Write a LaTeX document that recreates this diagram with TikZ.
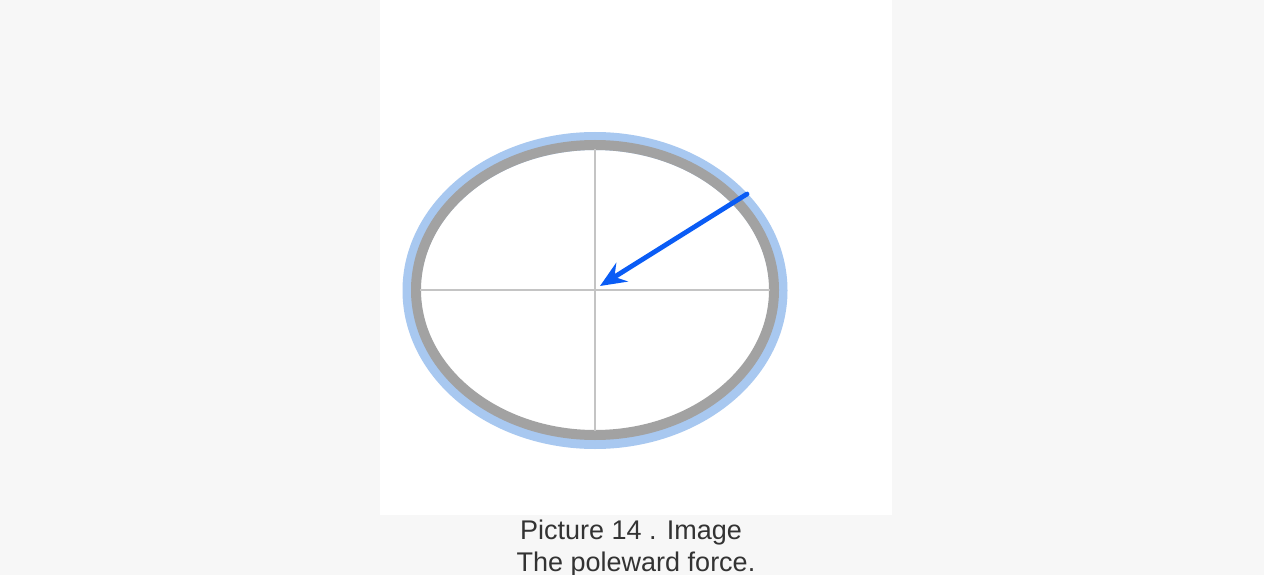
\documentclass[tikz,border=0pt]{standalone}
\usepackage{fontspec}
\setmainfont{Liberation Sans}
\usetikzlibrary{arrows.meta}
\definecolor{pagebg}{HTML}{F7F7F7}
\definecolor{halo}{HTML}{A8C8F0}
\definecolor{rim}{HTML}{A2A2A2}
\definecolor{cross}{HTML}{C4C4C4}
\definecolor{force}{HTML}{0A5CF5}
\definecolor{captxt}{HTML}{333333}
\tikzset{
  captionline/.style={anchor=base, text=captxt, font=\fontsize{27}{32}\selectfont, inner sep=0pt},
  crossline/.style={draw=cross, line width=2.8pt},
  forcearrow/.style={draw=force, line width=4.8pt, line cap=round, -{Stealth[length=26pt, width=22pt, inset=9pt]}}
}
\begin{document}
\begin{tikzpicture}[x=1pt, y=-1pt]
  \fill[pagebg] (0,0) rectangle (1264,575);
  \useasboundingbox (0,0) rectangle (1264,575);
  \fill[white] (380,0) rectangle (892,515);
  % halo and rim
  \draw[halo, line width=18pt] (595,290.5) ellipse [x radius=183.5, y radius=149.5];
  \draw[rim, line width=10pt] (595,290) ellipse [x radius=179, y radius=145];
  % crosshair
  \coordinate (c) at (595,290);
  \coordinate (l) at (420,290);
  \coordinate (r) at (770,290);
  \coordinate (t) at (595,149);
  \coordinate (b) at (595,431);
  \draw[crossline] (l) -- (r);
  \draw[crossline] (t) -- (b);
  % force arrow
  \coordinate (fs) at (747,194);
  \coordinate (fe) at (600,286);
  \draw[forcearrow] (fs) -- (fe);
  % caption
  \node[captionline] (cap1) at (631,539) {Picture 14 . Image};
  \node[captionline] (cap2) at (636,571) {The poleward force.};
\end{tikzpicture}
\end{document}
